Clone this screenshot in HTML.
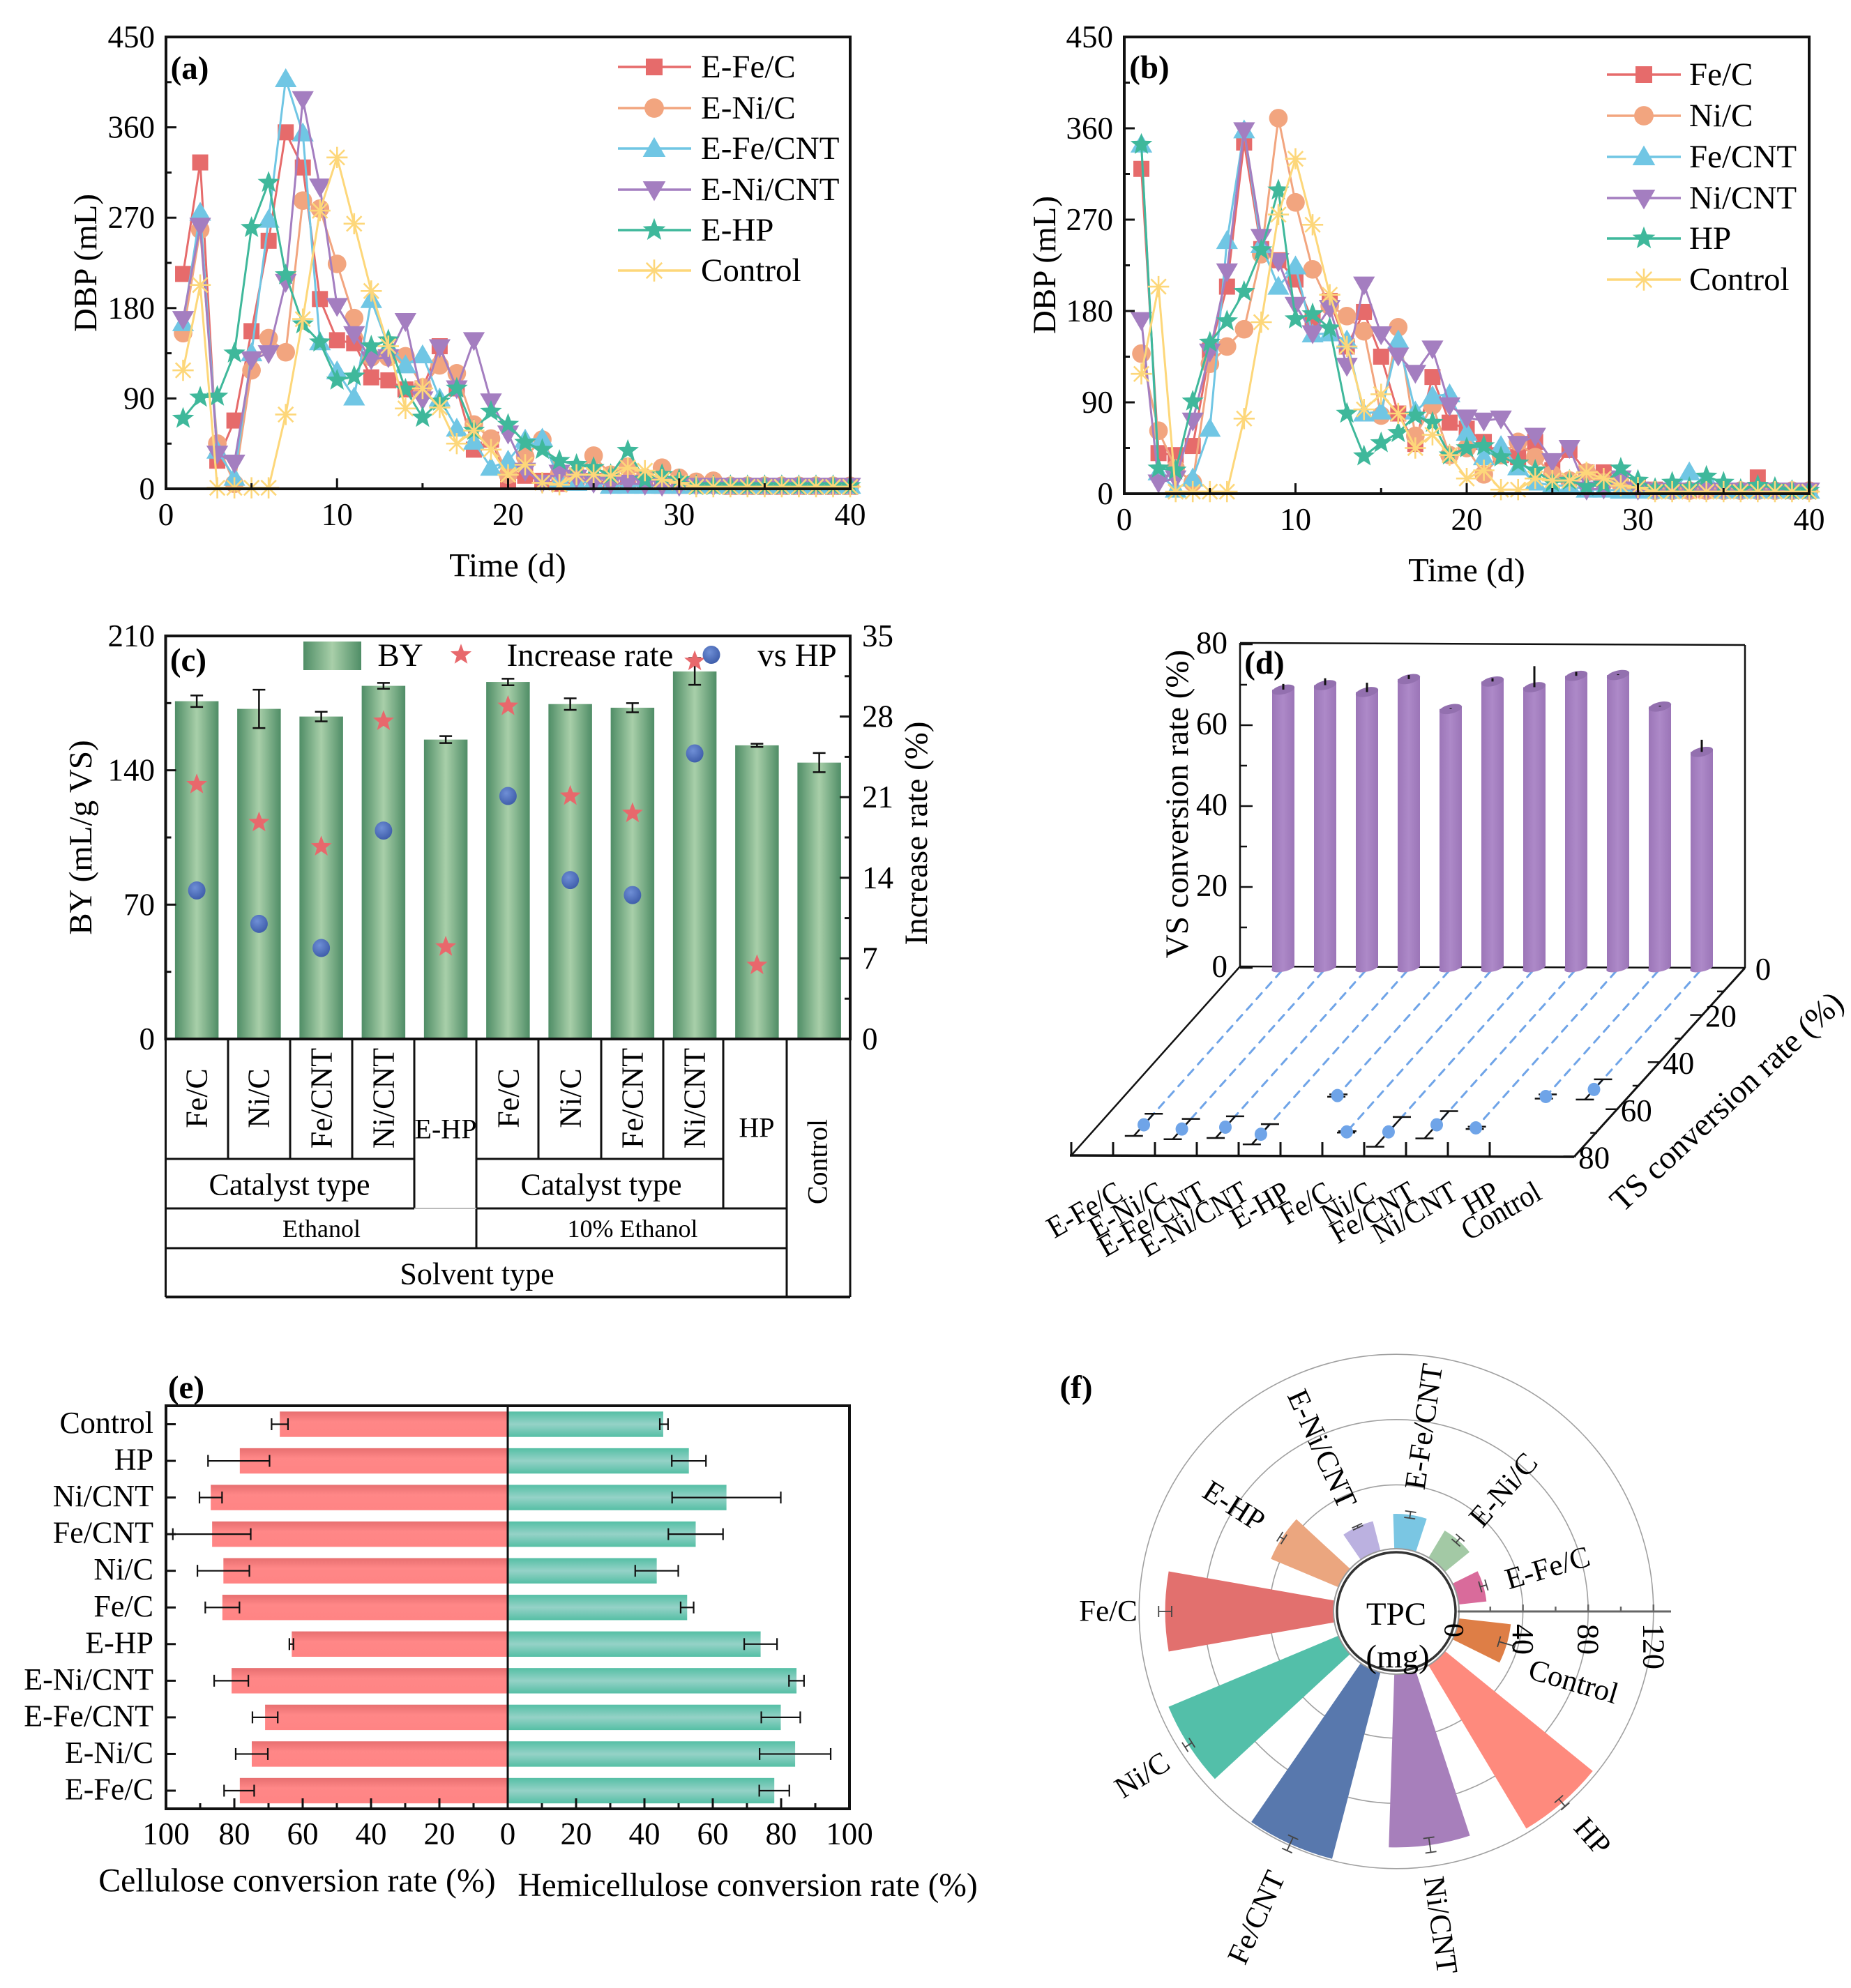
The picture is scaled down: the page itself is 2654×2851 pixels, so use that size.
<!DOCTYPE html>
<html lang="en">
<head>
<meta charset="utf-8">
<title>Biogas production panels</title>
<style>
html,body{margin:0;padding:0;background:#fff;width:2654px;height:2851px;overflow:hidden}
svg{display:block}
text{font-family:"Liberation Serif",serif;fill:#000;dominant-baseline:central}
.t48{font-size:48px}.t47{font-size:47px}.t45{font-size:45px}.t44{font-size:44px}.t43{font-size:43px}.t40{font-size:40px}.t36{font-size:36px}
.m{text-anchor:middle}.b{font-weight:bold}
</style>
</head>
<body>
<svg id="figure" xmlns="http://www.w3.org/2000/svg" width="2654" height="2851" viewBox="0 0 2654 2851">
<defs>
<linearGradient id="gBY" x1="0" x2="1" y1="0" y2="0"><stop offset="0" stop-color="#4f8d66"/><stop offset=".5" stop-color="#a8cfa9"/><stop offset="1" stop-color="#4f8d66"/></linearGradient>
<linearGradient id="gRed" x1="0" x2="0" y1="0" y2="1"><stop offset="0" stop-color="#e76f70"/><stop offset=".4" stop-color="#ff8787"/><stop offset="1" stop-color="#ff8484"/></linearGradient>
<linearGradient id="gGrn" x1="0" x2="0" y1="0" y2="1"><stop offset="0" stop-color="#55bfa5"/><stop offset=".5" stop-color="#95d2c7"/><stop offset="1" stop-color="#55bfa5"/></linearGradient>
<linearGradient id="gPur" x1="0" x2="1" y1="0" y2="0"><stop offset="0" stop-color="#9b75b7"/><stop offset=".5" stop-color="#ad89c8"/><stop offset="1" stop-color="#9b75b7"/></linearGradient>
<radialGradient id="gBall" cx=".4" cy=".35" r=".7"><stop offset="0" stop-color="#6f8fd6"/><stop offset="1" stop-color="#3c5ba8"/></radialGradient>
</defs>

<g id="panelA">
<text class="t47 m" x="123" y="377" transform="rotate(-90 123 377)">DBP (mL)</text>
<text class="t48 m" x="728" y="811">Time (d)</text>
<text class="t47 m b" x="272" y="98">(a)</text>
<text class="t47" x="1005" y="96">E-Fe/C</text>
<text class="t47" x="1005" y="155">E-Ni/C</text>
<text class="t47" x="1005" y="213">E-Fe/CNT</text>
<text class="t47" x="1005" y="272">E-Ni/CNT</text>
<text class="t47" x="1005" y="330">E-HP</text>
<text class="t47" x="1005" y="388">Control</text>
</g>

<g id="panelB">
<text class="t47 m" x="1498" y="380" transform="rotate(-90 1498 380)">DBP (mL)</text>
<text class="t48 m" x="2103" y="818">Time (d)</text>
<text class="t47 m b" x="1648" y="97">(b)</text>
<text class="t47" x="2422" y="107">Fe/C</text>
<text class="t47" x="2422" y="166">Ni/C</text>
<text class="t47" x="2422" y="225">Fe/CNT</text>
<text class="t47" x="2422" y="284">Ni/CNT</text>
<text class="t47" x="2422" y="342">HP</text>
<text class="t47" x="2422" y="401">Control</text>
</g>

<g id="panelC">
<text class="t47 m" x="116" y="1201" transform="rotate(-90 116 1201)">BY (mL/g VS)</text>
<text class="t47 m" x="1314" y="1195" transform="rotate(-90 1314 1195)">Increase rate (%)</text>
<text class="t47 m b" x="270" y="947">(c)</text>
<text class="t47 m" x="574" y="940">BY</text>
<text class="t47 m" x="846" y="940">Increase rate</text>
<text class="t47 m" x="1143" y="940">vs HP</text>
<text class="t44 m" x="282" y="1575" transform="rotate(-90 282 1575)">Fe/C</text>
<text class="t44 m" x="371" y="1575" transform="rotate(-90 371 1575)">Ni/C</text>
<text class="t44 m" x="461" y="1575" transform="rotate(-90 461 1575)">Fe/CNT</text>
<text class="t44 m" x="550" y="1575" transform="rotate(-90 550 1575)">Ni/CNT</text>
<text class="t40 m" x="639" y="1619">E-HP</text>
<text class="t44 m" x="729" y="1575" transform="rotate(-90 729 1575)">Fe/C</text>
<text class="t44 m" x="818" y="1575" transform="rotate(-90 818 1575)">Ni/C</text>
<text class="t44 m" x="907" y="1575" transform="rotate(-90 907 1575)">Fe/CNT</text>
<text class="t44 m" x="996" y="1575" transform="rotate(-90 996 1575)">Ni/CNT</text>
<text class="t40 m" x="1085" y="1617">HP</text>
<text class="t40 m" x="1172" y="1666" transform="rotate(-90 1172 1666)">Control</text>
<text class="t44 m" x="415" y="1699">Catalyst type</text>
<text class="t44 m" x="862" y="1699">Catalyst type</text>
<text class="t36 m" x="461" y="1762">Ethanol</text>
<text class="t36 m" x="907" y="1762">10% Ethanol</text>
<text class="t44 m" x="684" y="1827">Solvent type</text>
</g>

<g id="panelD">
<text class="t47 m" x="1688" y="1153" transform="rotate(-90 1688 1153)">VS conversion rate (%)</text>
<text class="t47 m" x="2476" y="1580" transform="rotate(-43 2476 1580)">TS conversion rate (%)</text>
<text class="t47 m b" x="1813" y="951">(d)</text>
</g>

<g id="panelE">
<text x="426" y="2697" font-size="47.8" class="m">Cellulose conversion rate (%)</text>
<text x="1072" y="2704" font-size="47.4" class="m">Hemicellulose conversion rate (%)</text>
<text class="t47 m b" x="267" y="1990">(e)</text>
</g>

<g id="panelF">
<text class="t47 m b" x="1543" y="1990">(f)</text>
</g>
</svg>

<script>
// ---------- panel (a) data: daily biogas production, days 1-40 ----------
const days = [1,2,3,4,5,6,7,8,9,10,11,12,13,14,15,16,17,18,19,20,21,22,23,24,25,26,27,28,29,30,31,32,33,34,35,36,37,38,39,40];
const aFeC = [214,325,28,68,157,247,355,320,189,148,145,111,108,99,100,142,100,39,49,9,13,8,5,8,8,6,5,4,3,3,3,3,2,2,2,2,2,2,2,2];
const aNiC = [155,258,45,5,118,150,136,287,279,224,170,131,131,132,101,123,115,64,50,14,32,49,15,14,33,14,22,11,21,11,7,8,3,3,3,3,3,3,3,3];
const aFeCNT = [165,275,38,11,135,268,408,354,146,117,91,188,142,123,133,90,60,47,21,28,49,50,9,6,7,3,3,3,3,3,3,3,3,3,3,3,3,3,3,3];
const aNiCNT = [169,262,35,26,129,135,206,388,301,182,154,129,131,167,89,141,100,148,87,55,18,6,16,11,6,5,6,4,3,3,3,3,3,3,3,3,3,3,3,3];
const aHP = [70,91,92,135,260,305,213,164,146,108,112,142,148,99,71,87,100,58,77,64,46,39,28,24,21,14,38,9,14,9,3,3,3,3,3,3,3,3,3,3];
const aControl = [118,203,1,1,1,1,74,169,277,330,264,197,142,80,100,81,45,58,39,14,24,6,4,14,14,13,21,18,9,6,2,2,2,2,2,2,2,2,2,2];
// ---------- panel (b) data ----------
const bFeC = [320,40,38,47,141,204,346,241,230,211,170,190,145,179,135,79,49,115,70,64,51,38,36,51,23,43,21,21,11,8,4,3,3,3,3,3,16,3,3,3];
const bNiC = [138,62,25,11,128,145,162,236,370,287,221,185,175,160,77,164,57,87,38,45,19,38,51,36,19,13,21,11,9,6,3,3,3,3,3,3,3,3,3,3];
const bFeCNT = [344,21,4,15,64,249,358,245,204,224,157,158,151,79,81,151,81,96,98,60,36,47,26,11,8,8,4,4,3,3,3,3,21,15,3,3,3,3,3,3];
const bNiCNT = [171,11,15,72,140,219,358,253,229,186,158,183,126,206,157,136,119,143,87,75,72,74,49,57,32,45,4,5,15,4,3,3,3,3,3,3,3,3,3,3];
const bHP = [344,25,23,91,149,170,199,240,299,172,177,163,79,37,50,60,77,70,38,45,47,36,30,23,11,13,7,9,25,13,5,11,6,17,11,4,8,6,3,3];
const bControl = [118,204,2,2,2,2,74,169,275,330,265,196,145,83,98,79,45,58,38,15,23,4,4,15,13,13,21,15,8,6,2,2,2,2,2,2,2,2,2,2];
const timeTicks = [0,10,20,30,40];
const dbpTicks = [0,90,180,270,360,450];
// ---------- panel (c) data ----------
const byValues = [176,172,168,184,156,186,174.5,172.6,191.5,153,144];
const byErrors = [3,10,2.5,1.5,1.8,1.7,3,2.4,7,0.8,5];
const increaseRate = [22.1,18.8,16.7,27.6,8,28.9,21.1,19.6,32.8,6.4,null];
const vsHP = [12.9,10,7.9,18.1,null,21.1,13.8,12.5,24.8,null,null];
const byTicks = [0,70,140,210];
const rateTicks = [0,7,14,21,28,35];
// ---------- panel (d) data ----------
const dCategories = ['E-Fe/C','E-Ni/C','E-Fe/CNT','E-Ni/CNT','E-HP','Fe/C','Ni/C','Fe/CNT','Ni/CNT','HP','Control'];
const vsConv = [68.8,69.9,68.2,71.4,64,70.8,69.4,72.2,72.4,64.6,53.4];
const vsErr = [1.4,1.7,2.3,1,0.2,0.8,5.2,1,0.2,0.2,3];
const tsConv = [66,67.8,67,70,53.6,69,69,66,67.3,54,51];
const tsErr = [4.7,4.3,4.6,4.3,0.5,0.3,6.3,5.8,0.5,0.9,4.3];
const vsTicks = [0,20,40,60,80];
const tsTicks = [0,20,40,60,80];
// ---------- panel (e) data ----------
const eCategories = ['Control','HP','Ni/CNT','Fe/CNT','Ni/C','Fe/C','E-HP','E-Ni/CNT','E-Fe/CNT','E-Ni/C','E-Fe/C'];
const cellulose = [66.7,78.4,86.9,86.5,83.2,83.5,63.2,80.8,71,74.9,78.4];
const celluloseCenter = [66.7,78.7,86.9,86.6,83.2,83.5,63.3,80.9,71,74.9,78.6];
const celluloseErr = [2.4,9,3.3,11.4,7.6,5,0.6,5,3.7,4.7,4.4];
const hemicellulose = [45.5,53,64,55,43.6,52.5,74,84.5,79.9,84.1,78];
const hemiCenter = [45.7,53,64,55,43.6,52.5,74,84.5,79.9,84.1,78];
const hemiErr = [1.2,5,15.9,8,6.3,1.9,4.8,2.2,5.7,10.4,4.4];
const convTicks = [0,20,40,60,80,100];
// ---------- panel (f) data ----------
const fCategories = ['E-Fe/C','E-Ni/C','E-Fe/CNT','E-Ni/CNT','E-HP','Fe/C','Ni/C','Fe/CNT','Ni/CNT','HP','Control'];
const tpc = [18,20.2,22.2,19.5,45.7,104,113.7,119,107,117.5,33];
const tpcErr = [2,2,2,0.7,1.5,4,2.5,4.5,4.5,3,5];
const tpcRings = [40,80,120];

const NS = 'http://www.w3.org/2000/svg';
function mk(tag, attrs, parent) {
  const el = document.createElementNS(NS, tag);
  for (const k in attrs) el.setAttribute(k, attrs[k]);
  parent.appendChild(el);
  return el;
}
function line(p, x1, y1, x2, y2, color, w, name) {
  const el = mk('line', {x1, y1, x2, y2, stroke: color, 'stroke-width': w}, p);
  
  
  return el;
}
function label(p, x, y, str, size, anchor, rot, name) {
  const el = mk('text', {x, y, 'font-size': size, 'text-anchor': anchor}, p);
  if (rot) el.setAttribute('transform', 'rotate(' + rot + ' ' + x + ' ' + y + ')');
  el.textContent = str;
  
  
  return el;
}
function starPath(x, y, r) {
  let d = '';
  for (let i = 0; i < 10; i++) {
    const rr = i % 2 ? r * 0.42 : r;
    const a = -Math.PI / 2 + i * Math.PI / 5;
    d += (i ? 'L' : 'M') + (x + rr * Math.cos(a)).toFixed(1) + ' ' + (y + rr * Math.sin(a)).toFixed(1);
  }
  return d + 'Z';
}
function marker(p, type, x, y, s, color, name) {
  let el;
  if (type === 'square') el = mk('rect', {x: x - s / 2, y: y - s / 2, width: s, height: s, fill: color}, p);
  else if (type === 'circle') el = mk('circle', {cx: x, cy: y, r: s * 0.58, fill: color}, p);
  else if (type === 'up') el = mk('path', {d: 'M' + x + ' ' + (y - s * 0.68) + 'L' + (x + s * 0.68) + ' ' + (y + s * 0.5) + 'L' + (x - s * 0.68) + ' ' + (y + s * 0.5) + 'Z', fill: color}, p);
  else if (type === 'down') el = mk('path', {d: 'M' + x + ' ' + (y + s * 0.68) + 'L' + (x + s * 0.68) + ' ' + (y - s * 0.5) + 'L' + (x - s * 0.68) + ' ' + (y - s * 0.5) + 'Z', fill: color}, p);
  else if (type === 'star') el = mk('path', {d: starPath(x, y, s * 0.72), fill: color}, p);
  else {
    const r = s * 0.66;
    let d = '';
    for (let i = 0; i < 4; i++) {
      const a = i * Math.PI / 4;
      d += 'M' + (x - r * Math.cos(a)).toFixed(1) + ' ' + (y - r * Math.sin(a)).toFixed(1) + 'L' + (x + r * Math.cos(a)).toFixed(1) + ' ' + (y + r * Math.sin(a)).toFixed(1);
    }
    el = mk('path', {d, fill: 'none', stroke: color, 'stroke-width': 2.6}, p);
  }
  
  
  return el;
}
function frame(p, l, t, r, b, w) {
  const el = mk('rect', {x: l, y: t, width: r - l, height: b - t, fill: 'none', stroke: '#111', 'stroke-width': w}, p);
  
  
}

// ---- time-series panels ----
const seriesColors = ['#e66b6b', '#f2a57f', '#70c6e4', '#a47ec0', '#3fb89b', '#fdd77a'];
const seriesMarks = ['square', 'circle', 'up', 'down', 'star', 'asterisk'];
function timePanel(g, box, datasets, legendX, legendY, names) {
  const X = d => box.l + d * (box.r - box.l) / 40;
  const Y = v => box.b - v * (box.b - box.t) / 450;
  datasets.forEach((vals, s) => {
    const sg = mk('g', {}, g);
    
    
    const pl = mk('polyline', {points: vals.map((v, i) => X(days[i]).toFixed(1) + ',' + Y(v).toFixed(1)).join(' '), fill: 'none', stroke: seriesColors[s], 'stroke-width': 3}, sg);
    
    
    vals.forEach((v, i) => marker(sg, seriesMarks[s], X(days[i]), Y(v), 23, seriesColors[s], 'data-point'));
  });
  frame(g, box.l, box.t, box.r, box.b, 4);
  timeTicks.forEach(t => {
    line(g, X(t), box.b, X(t), box.b - 15, '#111', 3, 'x-tick');
    label(g, X(t), box.lx, t, 45, 'middle', 0, 'x-tick-label');
    if (t < 40) line(g, X(t + 5), box.b, X(t + 5), box.b - 8, '#111', 3, 'x-minor-tick');
  });
  dbpTicks.forEach(t => {
    line(g, box.l, Y(t), box.l + 15, Y(t), '#111', 3, 'y-tick');
    label(g, box.ly, Y(t), t, 45, 'end', 0, 'y-tick-label');
    if (t < 450) line(g, box.l, Y(t + 45), box.l + 8, Y(t + 45), '#111', 3, 'y-minor-tick');
  });
  legendY.forEach((y, s) => {
    line(g, legendX[0], y, legendX[2], y, seriesColors[s], 3.5, 'legend-line');
    marker(g, seriesMarks[s], legendX[1], y, 24, seriesColors[s], 'legend-marker');
  });
}
timePanel(document.getElementById('panelA'), {l: 238, r: 1219, t: 53, b: 701, lx: 738, ly: 222},
  [aFeC, aNiC, aFeCNT, aNiCNT, aHP, aControl], [886, 938, 991], [96, 155, 213, 272, 330, 388],
  ['e-fe-c', 'e-ni-c', 'e-fe-cnt', 'e-ni-cnt', 'e-hp', 'control']);
timePanel(document.getElementById('panelB'), {l: 1612, r: 2594, t: 53, b: 708, lx: 745, ly: 1596},
  [bFeC, bNiC, bFeCNT, bNiCNT, bHP, bControl], [2304, 2357, 2410], [107, 166, 225, 284, 342, 401],
  ['fe-c', 'ni-c', 'fe-cnt', 'ni-cnt', 'hp', 'control']);

// ---- panel c ----
(function () {
  const g = document.getElementById('panelC');
  const L = 237.5, R = 1219, T = 912, B = 1490, step = 89.25, bw = 62.5;
  const X = i => L + (i + 0.5) * step;
  const Y = v => B - v * (B - T) / 210;
  const Y2 = v => B - v * (B - T) / 35;
  byValues.forEach((v, i) => {
    const r = mk('rect', {x: X(i) - bw / 2, y: Y(v), width: bw, height: B - Y(v), fill: 'url(#gBY)'}, g);
    
    
    line(g, X(i), Y(v + byErrors[i]), X(i), Y(v - byErrors[i]), '#111', 2.5, 'error-bar');
    line(g, X(i) - 9, Y(v + byErrors[i]), X(i) + 9, Y(v + byErrors[i]), '#111', 2.5, 'error-cap');
    line(g, X(i) - 9, Y(v - byErrors[i]), X(i) + 9, Y(v - byErrors[i]), '#111', 2.5, 'error-cap');
  });
  increaseRate.forEach((v, i) => { if (v !== null) marker(g, 'star', X(i), Y2(v), 22, '#e8686c', 'increase-rate-point'); });
  vsHP.forEach((v, i) => {
    if (v === null) return;
    const c = mk('ellipse', {cx: X(i), cy: Y2(v), rx: 12.5, ry: 13, fill: 'url(#gBall)'}, g);
    
    
  });
  frame(g, L, T, R, B, 4);
  byTicks.forEach(t => {
    line(g, L, Y(t), L + 15, Y(t), '#111', 3, 'left-tick');
    label(g, 222, Y(t), t, 45, 'end', 0, 'left-tick-label');
    if (t < 210) line(g, L, Y(t + 35), L + 8, Y(t + 35), '#111', 3, 'left-minor-tick');
  });
  rateTicks.forEach(t => {
    line(g, R, Y2(t), R - 15, Y2(t), '#111', 3, 'right-tick');
    label(g, 1236, Y2(t), t, 45, 'start', 0, 'right-tick-label');
    if (t < 35) line(g, R, Y2(t + 3.5), R - 8, Y2(t + 3.5), '#111', 3, 'right-minor-tick');
  });
  const sw = mk('rect', {x: 435, y: 920, width: 83, height: 41, fill: 'url(#gBY)'}, g);
  
  
  marker(g, 'star', 661, 939, 22, '#e8686c', 'legend-marker-increase-rate');
  const lc = mk('ellipse', {cx: 1020, cy: 939, rx: 12.5, ry: 13, fill: 'url(#gBall)'}, g);
  
  
  // category table grid
  const vx = [237.5, 327, 416, 505, 594, 683, 772, 862, 951, 1037, 1128, 1219];
  const vb = [1860, 1662, 1662, 1662, 1733, 1790, 1662, 1662, 1662, 1733, 1860, 1860];
  vx.forEach((x, i) => line(g, x, 1490, x, vb[i], '#111', 3, 'table-divider'));
  line(g, L, 1662, 594, 1662, '#111', 3, 'table-divider');
  line(g, 683, 1662, 1037, 1662, '#111', 3, 'table-divider');
  line(g, L, 1733, 594, 1733, '#111', 3, 'table-divider');
  line(g, 594, 1733, 683, 1733, '#bbb', 2, 'table-divider');
  line(g, 683, 1733, 1128, 1733, '#111', 3, 'table-divider');
  line(g, L, 1790, 1128, 1790, '#111', 3, 'table-divider');
  line(g, L, 1860, 1219, 1860, '#111', 4, 'table-divider');
})();

// ---- panel d ----
(function () {
  const g = document.getElementById('panelD');
  const wl = 1778, wr = 2502, wt = 922, wb = 1386, step = 60;
  const BX = i => 1840 + step * i;
  const VY = v => 1388 - v * 5.8;
  const TX = (i, t) => BX(i) - 3.03 * t;
  const TY = t => 1390 + 3.38 * t;
  line(g, wl, wt, wr, wt + 3, '#111', 2.5, 'wall-top');
  line(g, wl, wt, wl, wb, '#111', 2.5, 'wall-left');
  line(g, wr, wt + 3, wr, 1388, '#111', 2.5, 'wall-right');
  line(g, wl, wb, wr, 1388, '#111', 2.5, 'wall-bottom');
  line(g, wl, wb, 1536, 1657, '#111', 2.5, 'floor-left');
  line(g, 1534, 1657, 2257, 1659, '#111', 3.5, 'floor-front');
  line(g, 2257, 1659, wr, 1388, '#111', 3, 'floor-right');
  vsTicks.forEach(t => {
    line(g, wl, VY(t), wl + 18, VY(t), '#111', 2.5, 'vs-tick');
    label(g, 1760, VY(t) - 2, t, 45, 'end', 0, 'vs-tick-label');
    if (t < 80) line(g, wl, VY(t + 10), wl + 10, VY(t + 10), '#111', 2.5, 'vs-minor-tick');
  });
  tsTicks.forEach(t => {
    const x = wr - 3.03 * t, y = 1388 + 3.38 * t;
    if (t > 0) line(g, x, y, x - 18, y, '#111', 2.5, 'ts-tick');
    label(g, x + 26, y + 2, t, 45, 'middle', 0, 'ts-tick-label');
    if (t < 80) line(g, x - 30.3, y + 33.8, x - 40, y + 33.8, '#111', 2.5, 'ts-minor-tick');
  });
  dCategories.forEach((c, i) => {
    line(g, 1536 + i * 60, 1657, 1536 + i * 60, 1638, '#111', 3, 'category-tick');
    const lab = mk('text', {x: 0, y: 0, 'font-size': 44, 'text-anchor': 'end', transform: 'translate(' + (1606 + i * 60) + ' 1706) rotate(-30) scale(.92 1)'}, g);
    lab.textContent = c;
    
    
    const d = mk('line', {x1: BX(i) - 3, y1: 1393, x2: TX(i, tsConv[i]), y2: TY(tsConv[i]), stroke: '#6fa4e8', 'stroke-width': 3, 'stroke-dasharray': '11 10', 'stroke-linecap': 'round'}, g);
    
    
  });
  vsConv.forEach((v, i) => {
    const x = BX(i), top = VY(v), rx = 16;
    const p = mk('path', {d: 'M' + (x - rx) + ' ' + top + 'L' + (x - rx) + ' 1389A' + rx + ' 5.5 -13 0 0 ' + (x + rx) + ' 1386L' + (x + rx) + ' ' + (top - 3) + 'Z', fill: 'url(#gPur)'}, g);
    
    
    const e = mk('ellipse', {cx: x, cy: top, rx: rx + 0.5, ry: 6.5, fill: '#9370af', transform: 'rotate(-13 ' + x + ' ' + top + ')'}, g);
    
    
    line(g, x, top, x, VY(v + vsErr[i]), '#111', 3, 'vs-error-bar');
  });
  tsConv.forEach((t, i) => {
    const hi = t - tsErr[i], lo = t + tsErr[i];
    line(g, TX(i, hi), TY(hi), TX(i, lo), TY(lo), '#111', 2.5, 'ts-error-bar');
    line(g, TX(i, hi) - 13, TY(hi), TX(i, hi) + 13, TY(hi), '#111', 2.5, 'ts-error-cap');
    line(g, TX(i, lo) - 13, TY(lo), TX(i, lo) + 13, TY(lo), '#111', 2.5, 'ts-error-cap');
    const c = mk('ellipse', {cx: TX(i, t), cy: TY(t), rx: 9, ry: 9.5, fill: '#6fa4e8'}, g);
    
    
  });
})();

// ---- panel e ----
(function () {
  const g = document.getElementById('panelE');
  const L = 238, R = 1218, T = 2016, B = 2594, C = 728, u = 4.9, rs = 52.55;
  const RY = i => 2042.5 + i * rs;
  const XL = v => C - v * u;
  const XR = v => C + v * u;
  function err(x1, x2, y) {
    line(g, x1, y, x2, y, '#111', 2.2, 'error-bar');
    line(g, x1, y - 8.5, x1, y + 8.5, '#111', 2.2, 'error-cap');
    line(g, x2, y - 8.5, x2, y + 8.5, '#111', 2.2, 'error-cap');
  }
  eCategories.forEach((c, i) => {
    const y = RY(i);
    const a = mk('rect', {x: XL(cellulose[i]), y: y - 18.2, width: cellulose[i] * u, height: 36.4, fill: 'url(#gRed)'}, g);
    
    
    const b = mk('rect', {x: C, y: y - 18.2, width: hemicellulose[i] * u, height: 36.4, fill: 'url(#gGrn)'}, g);
    
    
    err(XL(celluloseCenter[i] + celluloseErr[i]), XL(celluloseCenter[i] - celluloseErr[i]), y);
    err(XR(hemiCenter[i] - hemiErr[i]), XR(hemiCenter[i] + hemiErr[i]), y);
    line(g, L, y, L + 14, y, '#111', 3, 'y-tick');
    label(g, 220, y - 2, c, 44, 'end', 0, 'category-label');
  });
  frame(g, L, T, R, B, 4);
  line(g, C, T, C, B, '#111', 3, 'center-axis');
  convTicks.forEach(t => {
    line(g, XR(t), B, XR(t), B - 15, '#111', 3, 'x-tick');
    label(g, XR(t), 2630, t, 45, 'middle', 0, 'x-tick-label');
    if (t > 0) {
      line(g, XL(t), B, XL(t), B - 15, '#111', 3, 'x-tick');
      label(g, XL(t), 2630, t, 45, 'middle', 0, 'x-tick-label');
    }
    if (t < 100) {
      line(g, XR(t + 10), B, XR(t + 10), B - 8, '#111', 3, 'x-minor-tick');
      line(g, XL(t + 10), B, XL(t + 10), B - 8, '#111', 3, 'x-minor-tick');
    }
  });
})();

// ---- panel f ----
(function () {
  const g = document.getElementById('panelF');
  const cx = 2002, cy = 2311, r0 = 88, k = 2.34;
  const R = v => r0 + v * k;
  const colors = ['#d96b9b', '#a3c9a5', '#7ac6e3', '#bbb1e0', '#eba67f', '#e2706e', '#53bfa9', '#5878ad', '#a77fbb', '#fe8a7d', '#de7e46'];
  const halfW = 10 * Math.PI / 180;
  const angle = i => (360 / 22 + i * 360 / 11) * Math.PI / 180;
  const PX = (r, a) => cx + r * Math.cos(a);
  const PY = (r, a) => cy - r * Math.sin(a);
  tpcRings.forEach(v => {
    const c = mk('circle', {cx, cy, r: R(v), fill: 'none', stroke: '#a0a0a0', 'stroke-width': 1.6}, g);
    
    
  });
  tpc.forEach((v, i) => {
    const a = angle(i), r = R(v);
    const d = 'M' + PX(r0, a - halfW) + ' ' + PY(r0, a - halfW) + 'L' + PX(r, a - halfW) + ' ' + PY(r, a - halfW) +
      'A' + r + ' ' + r + ' 0 0 0 ' + PX(r, a + halfW) + ' ' + PY(r, a + halfW) + 'L' + PX(r0, a + halfW) + ' ' + PY(r0, a + halfW) + 'Z';
    const w = mk('path', {d, fill: colors[i]}, g);
    
    
  });
  tpc.forEach((v, i) => {
    const a = angle(i), r1 = R(v - tpcErr[i]), r2 = R(v + tpcErr[i]);
    const tx = -Math.sin(a) * 8, ty = -Math.cos(a) * 8;
    line(g, PX(r1, a), PY(r1, a), PX(r2, a), PY(r2, a), '#444', 1.8, 'error-bar');
    line(g, PX(r1, a) - tx, PY(r1, a) - ty, PX(r1, a) + tx, PY(r1, a) + ty, '#444', 1.8, 'error-cap');
    line(g, PX(r2, a) - tx, PY(r2, a) - ty, PX(r2, a) + tx, PY(r2, a) + ty, '#444', 1.8, 'error-cap');
  });
  const outer = mk('circle', {cx, cy, r: 90, fill: '#fff', stroke: '#999', 'stroke-width': 2}, g);
  
  
  const inner = mk('circle', {cx, cy, r: 85, fill: '#fff', stroke: '#333', 'stroke-width': 3.5}, g);
  
  
  line(g, cx + 88, cy, 2396, cy, '#666', 3, 'radial-axis');
  tpcRings.forEach(v => {
    line(g, cx + R(v), cy, cx + R(v), cy - 10, '#666', 2.5, 'radial-tick');
    line(g, cx + R(v - 20), cy, cx + R(v - 20), cy - 7, '#666', 2.5, 'radial-minor-tick');
    label(g, cx + R(v), cy + (v === 120 ? 50 : 40), v, 44, 'middle', 90, 'radial-tick-label');
  });
  label(g, 2085, 2338, 0, 40, 'middle', 90, 'radial-tick-label');
  label(g, cx, 2315, 'TPC', 47, 'middle', 0, 'center-label');
  label(g, 2004, 2376, '(mg)', 47, 'middle', 0, 'center-label-unit');
  const labX = [2219, 2156, 2042, 1895, 1769, 1589, 1638, 1802, 2065, 2283, 2256];
  const labY = [2249, 2137, 2046, 2078, 2160, 2311, 2546, 2750, 2761, 2634, 2412];
  const labR = [-16.4, -49.1, -81.8, 65.5, 32.7, 0, -32.7, -65.5, 81.8, 49.1, 16.4];
  fCategories.forEach((c, i) => label(g, labX[i], labY[i], c, 43, 'middle', labR[i], 'wedge-label'));
})();
</script>
</body>
</html>
